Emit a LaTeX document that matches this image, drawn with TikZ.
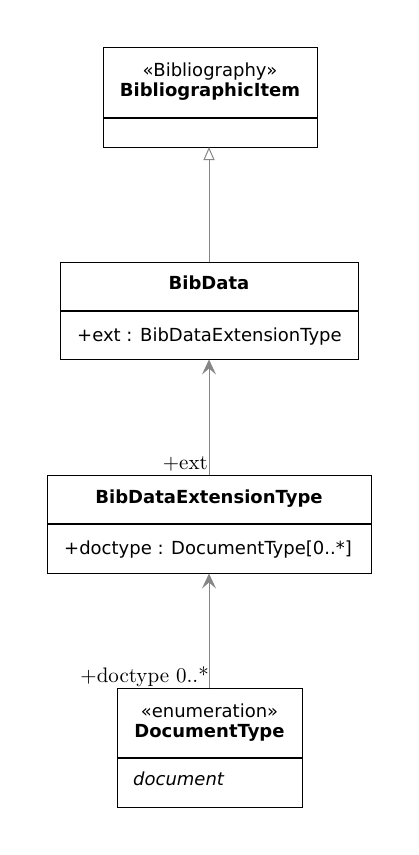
\documentclass[tikz,border=0pt]{standalone}
\usepackage{fontspec}
\setsansfont{DejaVu Sans}
\newfontfamily\lblfont{lmroman10-regular.otf}
\usetikzlibrary{arrows.meta}
\begin{document}
\begin{tikzpicture}[x=1pt,y=-1pt,
  classbox/.style={draw=black,line width=1.1pt,fill=white,anchor=north west,inner sep=0pt},
  divline/.style={draw=black,line width=1.1pt},
  ctext/.style={font=\fontsize{18}{22}\selectfont\sffamily,anchor=base,inner sep=0pt},
  ttext/.style={font=\fontsize{18}{22}\selectfont\sffamily\bfseries,anchor=base,inner sep=0pt},
  atext/.style={font=\fontsize{18}{22}\selectfont\sffamily,anchor=base west,inner sep=0pt},
  lbl/.style={font=\fontsize{21}{25}\selectfont\lblfont,anchor=base east,inner sep=0pt},
  conn/.style={draw=gray!95,line width=1pt},
  gen/.style={conn,-{Triangle[open,length=13pt,width=11pt,fill=white]}},
  assoc/.style={conn,-{Stealth[length=15pt,width=14pt,inset=6pt]}}]
\useasboundingbox (0,0) rectangle (419,855);
% BibliographicItem
\node[classbox,minimum width=214pt,minimum height=100pt] (bi) at (103,47) {};
\draw[divline] (bi.west |- 0,118) -- (bi.east |- 0,118);
\node[ctext] (bis) at (210,76) {«Bibliography»};
\node[ttext] (bin) at (210,96) {BibliographicItem};
% BibData
\node[classbox,minimum width=298pt,minimum height=97pt] (bd) at (60,262) {};
\draw[divline] (bd.west |- 0,311) -- (bd.east |- 0,311);
\node[ttext] (bdn) at (209,289) {BibData};
\node[atext] (bda) at (77,341) {+ext : BibDataExtensionType};
% BibDataExtensionType
\node[classbox,minimum width=324pt,minimum height=98pt] (ext) at (47,475) {};
\draw[divline] (ext.west |- 0,524) -- (ext.east |- 0,524);
\node[ttext] (extn) at (209,503) {BibDataExtensionType};
\node[atext] (exta) at (64,554) {+doctype : DocumentType[0..*]};
% DocumentType
\node[classbox,minimum width=185pt,minimum height=119pt] (dt) at (117,688) {};
\draw[divline] (dt.west |- 0,758) -- (dt.east |- 0,758);
\node[ctext] (dts) at (209.5,717) {«enumeration»};
\node[ttext] (dtn) at (209.5,737) {DocumentType};
\node[atext,font=\fontsize{18}{22}\selectfont\sffamily\itshape] (dtl) at (133,785) {document};
% connectors
\coordinate (g1) at (209,262);
\coordinate (g2) at (209,147);
\draw[gen] (g1) -- (g2);
\coordinate (a1) at (209,475);
\coordinate (a2) at (209,359.5);
\draw[assoc] (a1) -- (a2);
\coordinate (b1) at (209,688);
\coordinate (b2) at (209,573.5);
\draw[assoc] (b1) -- (b2);
\node[lbl] (l1) at (208,469) {+ext};
\node[lbl] (l2) at (209,682) {+doctype 0..*};
\end{tikzpicture}
\end{document}
